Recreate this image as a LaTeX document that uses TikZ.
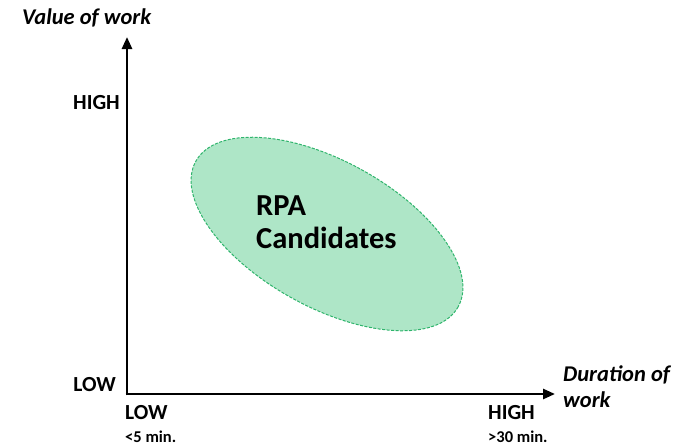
\documentclass[tikz,border=0pt]{standalone}
\usepackage{fontspec}
\setmainfont{Carlito}
\usetikzlibrary{arrows.meta}
\definecolor{mintfill}{HTML}{AEE6C7}
\definecolor{mintline}{HTML}{2FB46C}
\tikzset{
  axis/.style={line width=2.6pt,-{Triangle[length=12pt,width=10pt]}},
  lbl/.style={font=\bfseries\fontsize{21.5}{24}\selectfont,inner sep=0pt},
  sublbl/.style={font=\bfseries\fontsize{16.5}{18}\selectfont,inner sep=0pt},
  ttl/.style={font=\bfseries\itshape\fontsize{22.5}{26}\selectfont,inner sep=0pt,align=left},
}
\begin{document}
\begin{tikzpicture}[x=1pt,y=-1pt]
\useasboundingbox (0,0) rectangle (677,447);
\coordinate (O) at (127,394);
\coordinate (Ytip) at (127,37);
\coordinate (Xtip) at (555,394);
\draw[axis] ([yshift=-1.3pt]O) -- (Ytip);
\draw[axis] ([xshift=-1.3pt]O) -- (Xtip);
\draw[mintline,fill=mintfill,dashed,dash pattern=on 3pt off 1.5pt,line width=1pt,rotate around={-29:(327,234)}] (327,234) ellipse [x radius=150, y radius=73];
\node[font=\bfseries\fontsize{30.5}{33}\selectfont,align=left,anchor=north west,inner sep=0pt] (rpa) at (256,196) {RPA\\Candidates};
\node[ttl,anchor=west] (vw) at (22,18) {Value of work};
\node[lbl,anchor=east] (yhigh) at (120,103) {HIGH};
\node[lbl,anchor=east] (ylow) at (116,385) {LOW};
\node[lbl,anchor=west] (xlow) at (125,413) {LOW};
\node[sublbl,anchor=west] (xlowm) at (125,437) {<5 min.};
\node[lbl,anchor=west] (xhigh) at (488,413) {HIGH};
\node[sublbl,anchor=west] (xhighm) at (488,437) {>30 min.};
\node[ttl,anchor=north west] (dw) at (563,365) {Duration of\\work};
\end{tikzpicture}
\end{document}
